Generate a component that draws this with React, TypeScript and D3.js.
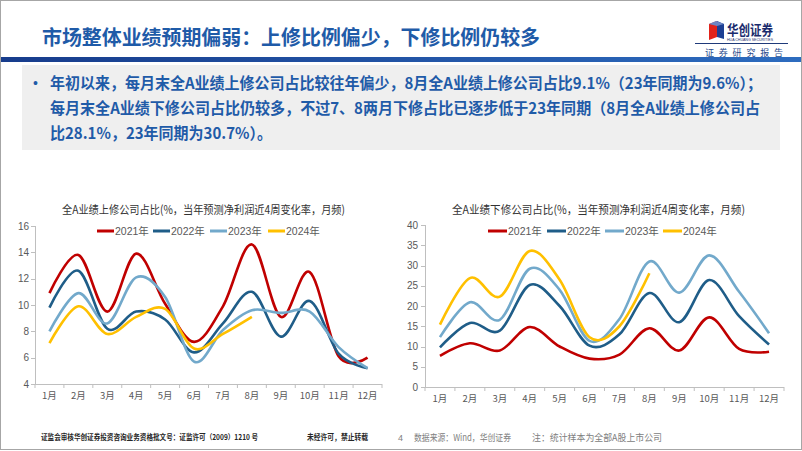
import React from 'react';
import * as d3 from 'd3';

const months = ['1月', '2月', '3月', '4月', '5月', '6月', '7月', '8月', '9月', '10月', '11月', '12月'];
const years = ['2021年', '2022年', '2023年', '2024年'];
const colors = ['#c00000', '#1f5d88', '#72a9cb', '#ffc000'];

// 上修公司占比
const up2021 = [10.9, 13.8, 9.5, 13.9, 10.1, 7.2, 9.9, 14.6, 9.1, 12.5, 6.1, 6.0];
const up2022 = [9.8, 12.6, 8.2, 9.5, 8.9, 6.4, 8.6, 11.0, 7.6, 10.3, 6.3, 5.2];
const up2023 = [8.0, 10.9, 8.6, 12.1, 10.6, 5.7, 8.1, 9.6, 9.4, 9.5, 6.8, 5.2];
const up2024 = [7.1, 9.9, 7.8, 9.1, 9.7, 6.7, 7.8, 9.1];
const upTicks = [4, 6, 8, 10, 12, 14, 16];

// 下修公司占比
const down2021 = [7.7, 10.8, 9.0, 14.8, 10.0, 7.0, 8.0, 14.5, 9.0, 17.2, 9.4, 8.7];
const down2022 = [9.8, 15.8, 13.9, 25.2, 20.0, 10.2, 13.0, 23.2, 16.0, 26.4, 17.5, 10.5];
const down2023 = [12.3, 20.9, 16.6, 29.2, 24.0, 11.4, 16.8, 31.0, 23.3, 32.5, 23.5, 13.3];
const down2024 = [15.4, 26.9, 22.3, 33.6, 26.5, 12.3, 15.0, 28.1];
const downTicks = [0, 5, 10, 15, 20, 25, 30, 35, 40];

const blue = '#1f5ba8';
const gray = '#595959';
const latin = '"Liberation Sans", Arial, "Noto Sans CJK SC", sans-serif';
const cjk = '"Noto Sans CJK SC", sans-serif';

type ChartProps = {
  title: string;
  titleX: number;
  titleW: number;
  series: number[][];
  ticks: number[];
  x0: number;
  x1: number;
  yTop: number;
  yBottom: number;
  legendX: number[];
  legendLen: number;
  labelRight: number;
};

function LineChart(props: ChartProps) {
  const { title, titleX, titleW, series, ticks, x0, x1, yTop, yBottom, legendX, legendLen, labelRight } = props;
  const x = d3.scaleBand<string>().domain(months).range([x0, x1]);
  const y = d3.scaleLinear().domain([ticks[0], ticks[ticks.length - 1]]).range([yBottom, yTop]);
  const line = d3
    .line<number>()
    .x((d, i) => (x(months[i]) as number) + x.bandwidth() / 2)
    .y(d => y(d))
    .curve(d3.curveCardinal.tension(0));

  return (
    <g>
      <text x={titleX} y={214} fontFamily={cjk} fontSize={11.5} fill="#333" textLength={titleW} lengthAdjust="spacingAndGlyphs">
        {title}
      </text>
      {years.map((yr, i) => (
        <g key={yr}>
          <line x1={legendX[i]} x2={legendX[i] + legendLen} y1={231} y2={231} stroke={colors[i]} strokeWidth={3} />
          <text x={legendX[i] + legendLen + 1} y={235} fontFamily={latin} fontSize={10.5} fill={gray}>
            {yr}
          </text>
        </g>
      ))}
      {/* y axis */}
      <line x1={x0 + 0.5} x2={x0 + 0.5} y1={yTop} y2={yBottom} stroke="#bfbfbf" />
      {ticks.map(t => (
        <g key={t}>
          <line x1={x0 - 4} x2={x0} y1={Math.round(y(t)) + 0.5} y2={Math.round(y(t)) + 0.5} stroke="#bfbfbf" />
          <text x={labelRight} y={y(t) + 3.5} textAnchor="end" fontFamily={latin} fontSize={10} fill={gray}>
            {t}
          </text>
        </g>
      ))}
      {/* x axis */}
      <line x1={x0} x2={x1} y1={yBottom + 0.5} y2={yBottom + 0.5} stroke="#bfbfbf" />
      {d3.range(months.length + 1).map(i => (
        <line key={i} x1={x0 + i * x.bandwidth()} x2={x0 + i * x.bandwidth()} y1={yBottom} y2={yBottom + 4} stroke="#bfbfbf" />
      ))}
      {months.map(m => (
        <text key={m} x={(x(m) as number) + x.bandwidth() / 2} y={yBottom + 15} textAnchor="middle" fontFamily={cjk} fontSize={9.5} fill={gray}>
          {m}
        </text>
      ))}
      {series.map((s, i) => (
        <path key={i} d={line(s) as string} fill="none" stroke={colors[i]} strokeWidth={2.6} strokeLinejoin="round" />
      ))}
    </g>
  );
}

export default function App() {
  return (
    <svg width={802} height={451} style={{ position: 'absolute', left: 0, top: 0, background: '#fff' }}>
      <defs>
        <linearGradient id="bar" x1="0" x2="1" y1="0" y2="0">
          <stop offset="0" stopColor="#173c8c" />
          <stop offset="1" stopColor="#2d6cbf" />
        </linearGradient>
      </defs>
      <rect x={0.5} y={0.5} width={801} height={449} fill="#fff" stroke="#a6a6a6" />

      {/* header */}
      <text x={42} y={45} fontFamily={cjk} fontWeight={700} fontSize={20} fill={blue} textLength={498} lengthAdjust="spacingAndGlyphs">
        市场整体业绩预期偏弱：上修比例偏少，下修比例仍较多
      </text>
      <polygon points="709,24 717,21 717,37 709,40" fill="#e2231a" />
      <polygon points="717,21 724,24 724,39 717,37" fill="#1d3f93" />
      <polygon points="709,24 716,21 724,24 717,26" fill="#6d86c4" />
      <text x={727} y={35} fontFamily={cjk} fontWeight={700} fontSize={14} fill="#1a2b6d" textLength={46} lengthAdjust="spacingAndGlyphs">
        华创证券
      </text>
      <text x={727} y={40.5} fontFamily={latin} fontSize={3.5} fill="#1a2b6d" textLength={46} lengthAdjust="spacingAndGlyphs">
        HUA CHUANG SECURITIES
      </text>
      <line x1={695} x2={788} y1={43.5} y2={43.5} stroke="#1f3a7a" strokeWidth={1} />
      <text x={705} y={56} fontFamily={cjk} fontSize={9} fill="#2b4b8c" textLength={78} lengthAdjust="spacing">
        证券研究报告
      </text>
      <rect x={1} y={57} width={800} height={5} fill="url(#bar)" />

      {/* summary box */}
      <rect x={22} y={65} width={758} height={85} fill="#efefef" />
      <text x={33} y={88} fontFamily={latin} fontSize={14} fill={blue}>•</text>
      <text x={50} y={89} fontFamily={cjk} fontWeight={700} fontSize={15.5} fill={blue} textLength={712} lengthAdjust="spacingAndGlyphs">
        年初以来，每月末全A业绩上修公司占比较往年偏少，8月全A业绩上修公司占比9.1%（23年同期为9.6%）；
      </text>
      <text x={50} y={114} fontFamily={cjk} fontWeight={700} fontSize={15.5} fill={blue} textLength={710} lengthAdjust="spacingAndGlyphs">
        每月末全A业绩下修公司占比仍较多，不过7、8两月下修占比已逐步低于23年同期（8月全A业绩上修公司占
      </text>
      <text x={50} y={139} fontFamily={cjk} fontWeight={700} fontSize={15.5} fill={blue} textLength={222} lengthAdjust="spacingAndGlyphs">
        比28.1%，23年同期为30.7%）。
      </text>

      <LineChart
        title="全A业绩上修公司占比(%，当年预测净利润近4周变化率，月频)"
        titleX={62}
        titleW={283}
        series={[up2021, up2022, up2023, up2024]}
        ticks={upTicks}
        x0={35}
        x1={382}
        yTop={226}
        yBottom={384}
        legendX={[97, 153, 210, 268]}
        legendLen={17}
        labelRight={29}
      />
      <LineChart
        title="全A业绩下修公司占比(%，当年预测净利润近4周变化率，月频)"
        titleX={452}
        titleW={293}
        series={[down2021, down2022, down2023, down2024]}
        ticks={downTicks}
        x0={425}
        x1={784}
        yTop={225}
        yBottom={387}
        legendX={[488, 547, 605, 663]}
        legendLen={19}
        labelRight={418}
      />

      {/* footer */}
      <text x={41} y={440} fontFamily={cjk} fontWeight={700} fontSize={7.5} fill="#262626" textLength={217} lengthAdjust="spacingAndGlyphs">
        证监会审核华创证券投资咨询业务资格批文号：证监许可（2009）1210 号
      </text>
      <text x={307} y={440} fontFamily={cjk} fontWeight={700} fontSize={7.5} fill="#262626" textLength={61} lengthAdjust="spacingAndGlyphs">
        未经许可，禁止转载
      </text>
      <text x={398} y={441} fontFamily={latin} fontSize={9} fill="#808080">4</text>
      <text x={414} y={441} fontFamily={cjk} fontSize={9.5} fill="#808080" textLength={97} lengthAdjust="spacingAndGlyphs">
        数据来源：Wind，华创证券
      </text>
      <text x={532} y={441} fontFamily={cjk} fontSize={9.5} fill="#808080" textLength={130} lengthAdjust="spacingAndGlyphs">
        注：统计样本为全部A股上市公司
      </text>
    </svg>
  );
}
